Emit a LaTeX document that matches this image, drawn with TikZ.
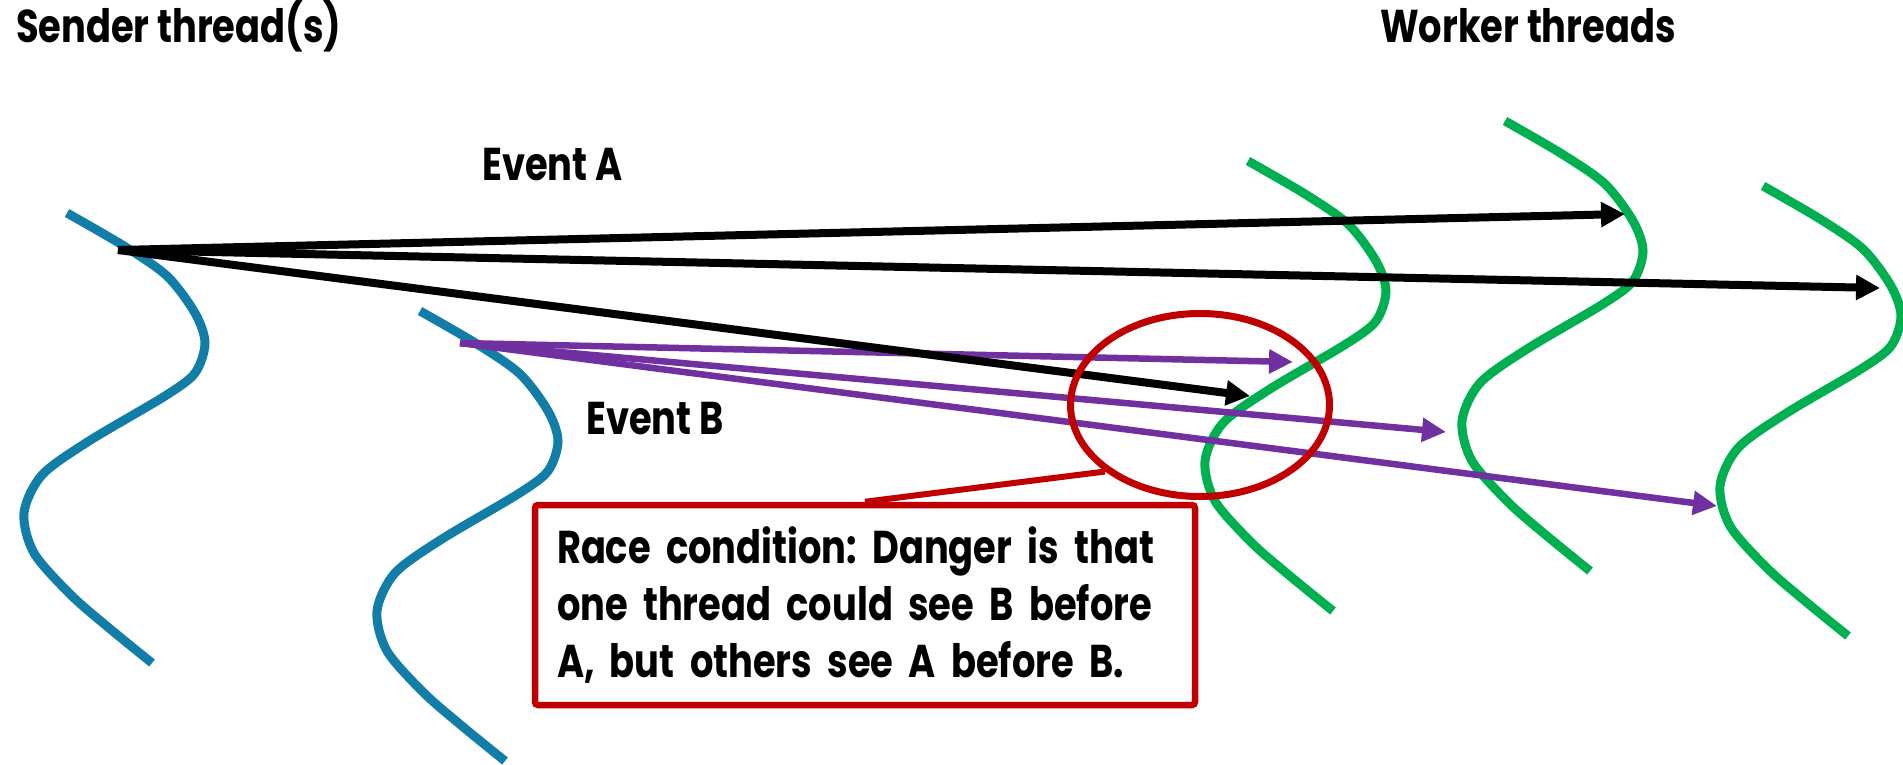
\documentclass[tikz,border=0pt]{standalone}
\usepackage{fontspec}
\setmainfont{Poppins}[FakeStretch=0.8]
\usetikzlibrary{arrows.meta,shapes.geometric}
\definecolor{threadblue}{RGB}{18,126,168}
\definecolor{threadgreen}{RGB}{0,176,80}
\definecolor{msgpurple}{RGB}{112,48,160}
\definecolor{racered}{RGB}{192,0,0}
\tikzset{
  thread/.pic={\draw[line width=9pt,pic actions] plot[smooth,tension=0.5] coordinates
    {(0,0) (57,33) (100,63) (128,100) (138,130) (128,160) (98,183) (22,228) (-25,262)
     (-43,300) (-33,340) (4,382) (42,415) (85,450)};},
  lbl/.style={font=\bfseries\fontsize{46}{57}\selectfont,inner sep=0pt,anchor=base west},
  msgA/.style={line width=8pt,-{Triangle[length=24pt,width=24pt]}},
  msgB/.style={msgpurple,line width=6.5pt,-{Triangle[length=24pt,width=23pt]}},
}
\frenchspacing
\begin{document}
\begin{tikzpicture}[x=1pt,y=-1pt]
\useasboundingbox[fill=white] (0,0) rectangle (1903,764);
% headings
\node[lbl] (sender) at (16,42) {Sender thread(s)};
\node[lbl] (worker) at (1380,42) {Worker threads};
\node[lbl] (evA) at (482,180) {Event A};
\node[lbl] (evB) at (586,434) {Event B};
% threads
\pic[draw=threadblue] at (67,213) {thread};
\pic[draw=threadblue] at (420,311) {thread};
\pic[draw=threadgreen] at (1248,161) {thread};
\pic[draw=threadgreen] at (1505,121) {thread};
\pic[draw=threadgreen] at (1763,186) {thread};
% event B messages
\coordinate (sB) at (460,343);
\coordinate (tB1) at (1293,362);
\coordinate (tB2) at (1446,432);
\coordinate (tB3) at (1717,506);
\draw[msgB] (sB) -- (tB1);
\draw[msgB] (sB) -- (tB2);
\draw[msgB] (sB) -- (tB3);
% event A messages
\coordinate (sA) at (118,250);
\coordinate (tA1) at (1625,214);
\coordinate (tA2) at (1880,288);
\coordinate (tA3) at (1250,396);
\draw[msgA] (sA) -- (tA1);
\draw[msgA] (sA) -- (tA2);
\draw[msgA] (sA) -- (tA3);
% race highlight
\node[ellipse,draw=racered,line width=7pt,minimum width=259pt,minimum height=183pt,inner sep=0pt] (race) at (1200,405) {};
\node[draw=racered,fill=white,line width=6.5pt,rounded corners=3pt,minimum width=660pt,minimum height=200pt,
      text width=616pt,align=left,inner sep=0pt,font=\bfseries\fontsize{46}{57}\selectfont] (note) at (865,605)
  {Race condition: Danger is that\\one thread could see B before\\A, but others see A before B.};
\draw[racered,line width=6pt] (note.north) -- (race.215);
\end{tikzpicture}
\end{document}
